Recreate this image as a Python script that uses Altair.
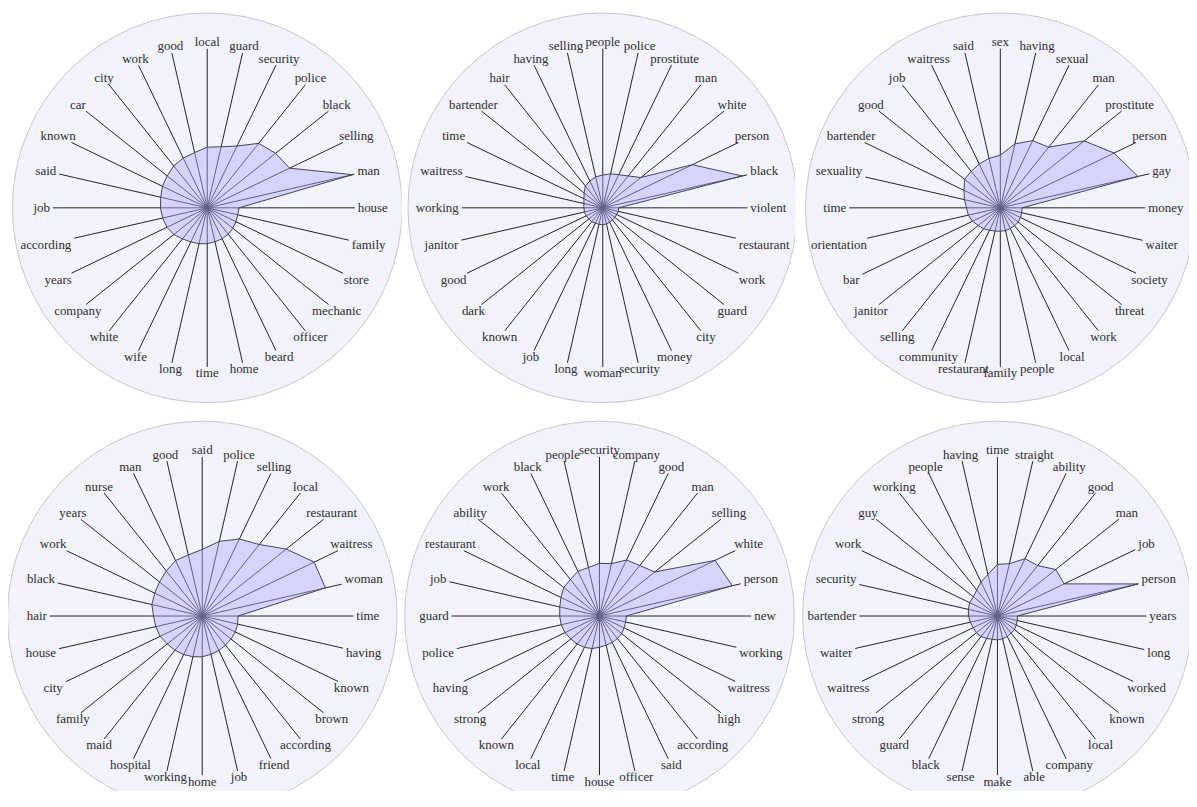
import math
import altair as alt
import pandas as pd

# ---------------- data ----------------
labels_1 = ["house", "man", "selling", "black", "police", "security", "guard", "local",
            "good", "work", "city", "car", "known", "said", "job", "according", "years",
            "company", "white", "wife", "long", "time", "home", "beard", "officer",
            "mechanic", "store", "family"]
values_1 = [32, 150, 92, 88, 83, 69, 63, 61, 57, 55.5, 54, 51.5, 50, 48, 47, 46, 45,
            43, 40, 38, 37, 36, 35, 34.5, 34, 33, 32, 31.5]

labels_2 = ["violent", "black", "person", "white", "man", "prostitute", "police", "people",
            "selling", "having", "hair", "bartender", "time", "waitress", "working",
            "janitor", "good", "dark", "known", "job", "long", "woman", "security",
            "money", "city", "guard", "work", "restaurant"]
values_2 = [16, 144, 100, 49, 41, 37, 35, 33, 32, 30, 28, 24, 21, 19.5, 19, 19, 18.5,
            18, 18, 17, 17, 17, 16.5, 16, 15.5, 15.5, 15.5, 16]

labels_3 = ["money", "gay", "person", "prostitute", "man", "sexual", "having", "sex",
            "said", "waitress", "job", "good", "bartender", "sexuality", "time",
            "orientation", "bar", "janitor", "selling", "community", "restaurant",
            "family", "people", "local", "work", "threat", "society", "waiter"]
values_3 = [22, 142, 127, 108, 78, 75, 66, 53, 51, 49, 47, 46, 40.5, 37, 34, 33, 31,
            28.5, 27, 25, 24, 23.5, 23.5, 23, 23, 23, 22.5, 22]

labels_4 = ["time", "woman", "waitress", "restaurant", "local", "selling", "police", "said",
            "good", "man", "nurse", "years", "work", "black", "hair", "house", "city",
            "family", "maid", "hospital", "working", "home", "job", "friend",
            "according", "brown", "known", "having"]
values_4 = [36, 127, 125, 108, 92, 86, 77, 67, 63, 62, 58, 55, 53, 52, 49, 48, 47, 45,
            44, 43, 42, 41, 39.5, 38.5, 37.5, 37, 37, 36.5]

labels_5 = ["new", "person", "white", "selling", "man", "good", "company", "security",
            "people", "black", "work", "ability", "restaurant", "job", "guard", "police",
            "having", "strong", "known", "local", "time", "house", "officer", "said",
            "according", "high", "waitress", "working"]
values_5 = [27, 137, 129, 71, 65, 62.5, 54, 53, 50, 50, 47, 46, 43, 41, 40, 39.5, 38.5,
            37, 36, 35, 33.5, 31.5, 30, 29.5, 29, 28.5, 27.5, 27]

labels_6 = ["years", "person", "job", "man", "good", "ability", "straight", "time",
            "having", "people", "working", "guy", "work", "security", "bartender",
            "waiter", "waitress", "strong", "guard", "black", "sense", "make", "able",
            "company", "local", "known", "worked", "long"]
values_6 = [20, 145, 74.5, 75, 65, 64, 54, 52, 43, 38, 33.5, 31, 31, 30, 29, 28, 27, 27,
            26.5, 25, 24, 24, 23.5, 23, 22, 22, 21, 20.5]

# ---------------- styling ----------------
FONT = "'Liberation Serif', 'Times New Roman', 'DejaVu Serif', serif"
FONT_SIZE = 13
LABEL_R = 166.5
CIRCLE_R = 196
N = 28

# Times-compatible advance widths (per 1000 em) to stop spokes at the label boxes
CHAR_W = dict(a=444, b=500, c=444, d=500, e=444, f=333, g=500, h=500, i=278, j=278,
              k=500, l=278, m=778, n=500, o=500, p=500, q=500, r=333, s=389, t=278,
              u=500, v=500, w=722, x=500, y=500, z=444)


def spoke_len(label, ang):
    w = sum(CHAR_W.get(ch, 500) for ch in label) * FONT_SIZE / 1000 / 2 + 3
    h = 6.5
    c, s = abs(math.cos(ang)), abs(math.sin(ang))
    t = min(w / c if c > 1e-9 else 1e9, h / s if s > 1e-9 else 1e9)
    return LABEL_R - t


def panel(labels, values, cx, cy, width, height):
    rows = []
    for k, (lab, val) in enumerate(zip(labels, values)):
        ang = 2 * math.pi * k / N
        rows.append(dict(k=k, label=lab, value=val, angle=ang,
                         spoke=spoke_len(lab, ang), lr=LABEL_R))
    df = pd.DataFrame(rows)

    xs = alt.Scale(domain=[-cx, width - cx], nice=False, zero=False)
    ys = alt.Scale(domain=[cy - height, cy], nice=False, zero=False)

    base = alt.Chart(df).transform_calculate(
        px="datum.value * cos(datum.angle)",
        py="datum.value * sin(datum.angle)",
        sx="datum.spoke * cos(datum.angle)",
        sy="datum.spoke * sin(datum.angle)",
        lx="datum.lr * cos(datum.angle)",
        ly="datum.lr * sin(datum.angle)",
        zero="0",
    )

    # Vega circle symbols: size is the area of the bounding square, (2r)^2
    circle = alt.Chart(pd.DataFrame({"x": [0], "y": [0]})).mark_circle(
        size=(2 * CIRCLE_R) ** 2, fill="#f2f2fb", stroke="#c6c6d2",
        strokeWidth=1, opacity=1, fillOpacity=1, clip=True
    ).encode(
        x=alt.X("x:Q", scale=xs, axis=None),
        y=alt.Y("y:Q", scale=ys, axis=None),
    )

    spokes = base.mark_rule(color="#222222", strokeWidth=1, clip=True).encode(
        x=alt.X("zero:Q", scale=xs, axis=None),
        y=alt.Y("zero:Q", scale=ys, axis=None),
        x2="sx:Q",
        y2="sy:Q",
    )

    poly = base.mark_line(
        interpolate="linear-closed", fill="#b0b0ff", fillOpacity=0.45,
        stroke="#444455", strokeWidth=1, clip=True
    ).encode(
        x=alt.X("px:Q", scale=xs, axis=None),
        y=alt.Y("py:Q", scale=ys, axis=None),
        order="k:Q",
    )

    text = base.mark_text(
        font=FONT, fontSize=FONT_SIZE, color="#2e2e2e", align="center",
        baseline="middle", clip=True
    ).encode(
        x=alt.X("lx:Q", scale=xs, axis=None),
        y=alt.Y("ly:Q", scale=ys, axis=None),
        text="label:N",
    )

    return alt.layer(circle, spokes, poly, text).properties(width=width, height=height)


W = 396
top = alt.hconcat(
    panel(labels_1, values_1, 200.4, 198.7, W, 410),
    panel(labels_2, values_2, 202.3, 198.7, W, 410),
    panel(labels_3, values_3, 206.2, 198.7, W, 410),
    spacing=0,
)
bottom = alt.hconcat(
    panel(labels_4, values_4, 195.4, 199.3, W, 375),
    panel(labels_5, values_5, 199.0, 199.3, W, 375),
    panel(labels_6, values_6, 203.3, 199.3, W, 375),
    spacing=0,
)

chart = alt.vconcat(top, bottom, spacing=0).properties(
    padding=0
).configure_view(strokeWidth=0)

chart.save("out.html", embed_options={"renderer": "svg", "actions": False})
